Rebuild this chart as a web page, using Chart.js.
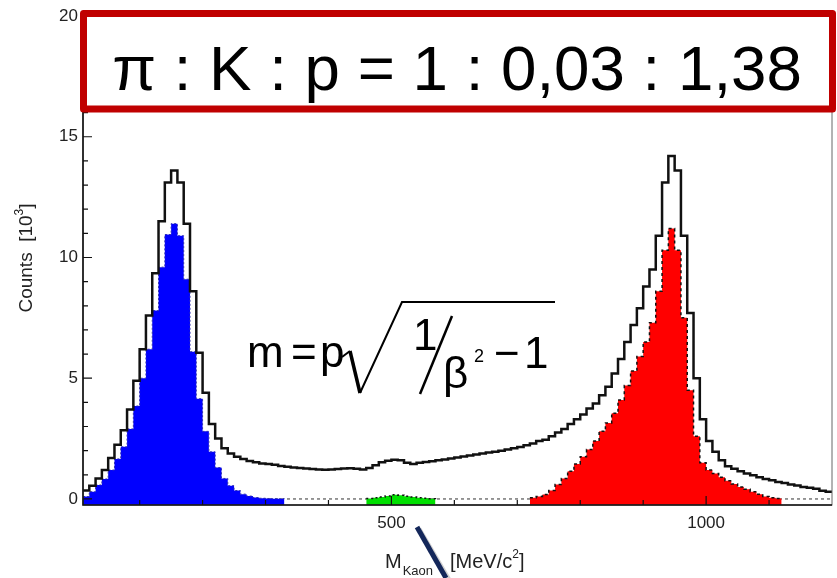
<!DOCTYPE html>
<html>
<head>
<meta charset="utf-8">
<script src="https://cdn.jsdelivr.net/npm/chart.js@4.4.1/dist/chart.umd.min.js"></script>
<style>
  body { margin: 0; background: #fff; }
  #wrap { width: 837px; height: 578px; position: relative; }
</style>
</head>
<body>
<div id="wrap"><canvas id="myChart"></canvas></div>
<script>
'use strict';
// binning of the mass histogram, MeV/c^2
const binStart = 10;
const binWidth = 10;
const xMin = 10;
const xMax = 1200;
const xTickLabels = [500, 1000];
const yTickLabels = [0, 5, 10, 15, 20];

// counts per bin, in units of 10^3
const totalCounts = [
  0.35, 0.55, 0.85, 1.2, 1.7, 2.25, 2.85, 3.7, 4.9, 6.2,
  7.6, 9.35, 11.5, 13.1, 13.6, 13.1, 11.4, 8.6, 6.05, 4.4,
  3.1, 2.5, 2.1, 1.88, 1.75, 1.65, 1.57, 1.52, 1.47, 1.45,
  1.42, 1.36, 1.33, 1.3, 1.28, 1.26, 1.24, 1.22, 1.21, 1.22,
  1.24, 1.26, 1.27, 1.25, 1.22, 1.28, 1.4, 1.52, 1.58, 1.62,
  1.6, 1.5, 1.45, 1.5, 1.53, 1.56, 1.6, 1.63, 1.68, 1.72,
  1.76, 1.8, 1.84, 1.88, 1.92, 1.96, 2.0, 2.05, 2.1, 2.15,
  2.22, 2.3, 2.4, 2.45, 2.6, 2.75, 2.9, 3.1, 3.3, 3.5,
  3.75, 3.95, 4.3, 4.65, 5.2, 5.8, 6.5, 7.2, 7.9, 8.8,
  9.5, 10.9, 13.1, 14.2, 13.6, 10.9, 7.7, 5.0, 3.3, 2.4,
  1.95, 1.6, 1.35, 1.25, 1.15, 1.05, 0.98, 0.9, 0.83, 0.78,
  0.7, 0.66, 0.6, 0.56, 0.5, 0.46, 0.42, 0.34, 0.3
];
const pionCounts = [
  0.1, 0.3, 0.58, 0.83, 1.2, 1.66, 2.16, 2.9, 3.85, 5.0,
  6.2, 7.8, 9.6, 10.95, 11.4, 10.9, 9.1, 6.1, 4.15, 2.8,
  1.95, 1.3, 0.85, 0.55, 0.35, 0.2, 0.12, 0.06, 0.03, 0.02,
  0.01, 0.01, 0, 0, 0, 0, 0, 0, 0, 0,
  0, 0, 0, 0, 0, 0, 0, 0, 0, 0,
  0, 0, 0, 0, 0, 0, 0, 0, 0, 0,
  0, 0, 0, 0, 0, 0, 0, 0, 0, 0,
  0, 0, 0, 0, 0, 0, 0, 0, 0, 0,
  0, 0, 0, 0, 0, 0, 0, 0, 0, 0,
  0, 0, 0, 0, 0, 0, 0, 0, 0, 0,
  0, 0, 0, 0, 0, 0, 0, 0, 0, 0,
  0, 0, 0, 0, 0, 0, 0, 0, 0
];
const kaonCounts = [
  0, 0, 0, 0, 0, 0, 0, 0, 0, 0,
  0, 0, 0, 0, 0, 0, 0, 0, 0, 0,
  0, 0, 0, 0, 0, 0, 0, 0, 0, 0,
  0, 0, 0, 0, 0, 0, 0, 0, 0, 0,
  0, 0, 0, 0, 0, 0.02, 0.05, 0.08, 0.12, 0.17,
  0.15, 0.11, 0.08, 0.05, 0.03, 0.01, 0, 0, 0, 0,
  0, 0, 0, 0, 0, 0, 0, 0, 0, 0,
  0, 0, 0, 0, 0, 0, 0, 0, 0, 0,
  0, 0, 0, 0, 0, 0, 0, 0, 0, 0,
  0, 0, 0, 0, 0, 0, 0, 0, 0, 0,
  0, 0, 0, 0, 0, 0, 0, 0, 0, 0,
  0, 0, 0, 0, 0, 0, 0, 0, 0
];
const protonCounts = [
  0, 0, 0, 0, 0, 0, 0, 0, 0, 0,
  0, 0, 0, 0, 0, 0, 0, 0, 0, 0,
  0, 0, 0, 0, 0, 0, 0, 0, 0, 0,
  0, 0, 0, 0, 0, 0, 0, 0, 0, 0,
  0, 0, 0, 0, 0, 0, 0, 0, 0, 0,
  0, 0, 0, 0, 0, 0, 0, 0, 0, 0,
  0, 0, 0, 0, 0, 0, 0, 0, 0, 0,
  0, 0.05, 0.1, 0.18, 0.35, 0.6, 0.85, 1.15, 1.45, 1.75,
  2.05, 2.4, 2.8, 3.15, 3.55, 4.1, 4.7, 5.3, 5.9, 6.5,
  7.3, 8.6, 10.3, 11.2, 10.3, 7.5, 4.5, 2.6, 1.5, 1.2,
  1.05, 0.9, 0.75, 0.62, 0.5, 0.4, 0.3, 0.2, 0.1, 0.05,
  0.02, 0, 0, 0, 0, 0, 0, 0, 0
];

const ratioText = 'π : K : p = 1 : 0,03 : 1,38';
const fontFam = "'Liberation Sans', Arial, Helvetica, sans-serif";

// step points at the left edge of every bin, empty bins become gaps
function stepPoints(counts) {
  let pts = [];
  for (let i = 0; i < counts.length; i++) {
    let prev = i > 0 ? counts[i - 1] : 0;
    let keep = counts[i] > 0 || prev > 0;
    pts.push({ x: binStart + i * binWidth, y: keep ? counts[i] : null });
  }
  let last = counts[counts.length - 1];
  pts.push({ x: binStart + counts.length * binWidth, y: last > 0 ? last : null });
  return pts;
}

const decorations = {
  id: 'decorations',
  beforeDatasetsDraw(chart) {
    const ctx = chart.ctx;
    const a = chart.chartArea;
    const y0 = chart.scales.y.getPixelForValue(0);
    ctx.save();
    ctx.strokeStyle = '#333';
    ctx.lineWidth = 1;
    ctx.setLineDash([3, 3]);
    ctx.beginPath();
    ctx.moveTo(a.left, y0);
    ctx.lineTo(a.right, y0);
    ctx.stroke();
    ctx.restore();
  },
  afterDraw(chart) {
    const ctx = chart.ctx;
    const a = chart.chartArea;
    const xs = chart.scales.x;
    const ys = chart.scales.y;
    ctx.save();

    // frame
    ctx.strokeStyle = '#666';
    ctx.lineWidth = 1;
    ctx.strokeRect(a.left, a.top, a.right - a.left, a.bottom - a.top);
    ctx.strokeStyle = '#111';
    ctx.lineWidth = 1.6;
    ctx.beginPath();
    ctx.moveTo(a.left, a.top);
    ctx.lineTo(a.left, a.bottom);
    ctx.lineTo(a.right, a.bottom);
    ctx.stroke();

    // ticks inside the frame
    ctx.lineWidth = 1.2;
    ctx.beginPath();
    for (let v = 100; v < xMax; v += 100) {
      let px = xs.getPixelForValue(v);
      let len = xTickLabels.includes(v) ? 9 : 5;
      ctx.moveTo(px, a.bottom);
      ctx.lineTo(px, a.bottom - len);
    }
    for (let v = 0; v <= 20; v++) {
      let py = ys.getPixelForValue(v);
      let len = yTickLabels.includes(v) ? 9 : 5;
      ctx.moveTo(a.left, py);
      ctx.lineTo(a.left + len, py);
    }
    ctx.stroke();

    // ratio box
    ctx.fillStyle = '#fff';
    ctx.fillRect(83, 13, 750, 96);
    ctx.strokeStyle = '#c00000';
    ctx.lineWidth = 7;
    ctx.lineJoin = 'round';
    ctx.strokeRect(83.5, 13.5, 749, 95.5);
    let size = 64;
    ctx.font = size + 'px ' + fontFam;
    size = size * 690 / ctx.measureText(ratioText).width;
    ctx.font = size + 'px ' + fontFam;
    ctx.fillStyle = '#000';
    ctx.textAlign = 'center';
    ctx.textBaseline = 'alphabetic';
    ctx.fillText(ratioText, 457, 90);

    // mass formula
    ctx.strokeStyle = '#000';
    ctx.lineJoin = 'miter';
    ctx.textAlign = 'left';
    ctx.font = '44px ' + fontFam;
    ctx.fillText('m', 247, 367);
    ctx.fillText('=', 291, 367);
    ctx.fillText('p', 320, 367);
    ctx.lineWidth = 2;
    ctx.lineCap = 'butt';
    ctx.beginPath();
    ctx.moveTo(342, 357);
    ctx.lineTo(350, 351);
    ctx.stroke();
    ctx.lineWidth = 3.5;
    ctx.beginPath();
    ctx.moveTo(350, 351);
    ctx.lineTo(360, 393);
    ctx.stroke();
    ctx.lineWidth = 2;
    ctx.beginPath();
    ctx.moveTo(360, 393);
    ctx.lineTo(402, 302);
    ctx.lineTo(555, 302);
    ctx.stroke();
    ctx.fillText('1', 413, 350);
    ctx.lineWidth = 2.5;
    ctx.beginPath();
    ctx.moveTo(452, 316);
    ctx.lineTo(420, 394);
    ctx.stroke();
    ctx.fillText('β', 443, 388);
    ctx.font = '18px ' + fontFam;
    ctx.fillText('2', 474, 362);
    ctx.font = '44px ' + fontFam;
    ctx.fillText('−', 494, 368);
    ctx.fillText('1', 524, 368);

    // axis titles
    ctx.fillStyle = '#222';
    ctx.font = '20px ' + fontFam;
    ctx.fillText('M', 385, 568);
    let wM = ctx.measureText('M').width;
    ctx.font = '13px ' + fontFam;
    ctx.fillText('Kaon', 385 + wM + 1, 575);
    ctx.font = '20px ' + fontFam;
    let unitA = '[MeV/c';
    ctx.fillText(unitA, 450, 568);
    let wA = ctx.measureText(unitA).width;
    ctx.font = '12px ' + fontFam;
    ctx.fillText('2', 450 + wA, 558);
    let w2 = ctx.measureText('2').width;
    ctx.font = '20px ' + fontFam;
    ctx.fillText(']', 450 + wA + w2, 568);

    ctx.save();
    ctx.translate(32, 258);
    ctx.rotate(-Math.PI / 2);
    ctx.font = '19px ' + fontFam;
    let tA = 'Counts  [10';
    let tw = ctx.measureText(tA).width;
    ctx.font = '12px ' + fontFam;
    let sw = ctx.measureText('3').width;
    ctx.font = '19px ' + fontFam;
    let total = tw + sw + ctx.measureText(']').width;
    let sx = -total / 2;
    ctx.fillText(tA, sx, 0);
    ctx.font = '12px ' + fontFam;
    ctx.fillText('3', sx + tw, -9);
    ctx.font = '19px ' + fontFam;
    ctx.fillText(']', sx + tw + sw, 0);
    ctx.restore();

    // pointer stroke over the axis title
    ctx.strokeStyle = 'rgba(0,0,0,0.18)';
    ctx.lineWidth = 5;
    ctx.beginPath();
    ctx.moveTo(419, 529);
    ctx.lineTo(449, 580);
    ctx.stroke();
    ctx.strokeStyle = '#14275a';
    ctx.lineWidth = 5;
    ctx.beginPath();
    ctx.moveTo(417, 527);
    ctx.lineTo(446, 578);
    ctx.stroke();

    ctx.restore();
  }
};

const ctx = document.getElementById('myChart').getContext('2d');
const chart = new Chart(ctx, {
  type: 'line',
  data: {
    datasets: [
      {
        label: 'all',
        data: stepPoints(totalCounts),
        stepped: true,
        borderColor: '#111',
        borderWidth: 2.5,
        fill: false
      },
      {
        label: 'kaon',
        data: stepPoints(kaonCounts),
        stepped: true,
        borderColor: '#111',
        borderWidth: 1.5,
        borderDash: [2, 3],
        backgroundColor: '#00e000',
        fill: 'start'
      },
      {
        label: 'pion',
        data: stepPoints(pionCounts),
        stepped: true,
        borderColor: '#3030b0',
        borderWidth: 1,
        borderDash: [2, 2],
        backgroundColor: '#0000ff',
        fill: 'start'
      },
      {
        label: 'proton',
        data: stepPoints(protonCounts),
        stepped: true,
        borderColor: '#111',
        borderWidth: 1.5,
        borderDash: [3, 3],
        backgroundColor: '#ff0000',
        fill: 'start'
      }
    ]
  },
  options: {
    responsive: true,
    maintainAspectRatio: false,
    animation: false,
    layout: { padding: { left: 0, right: 5, top: 16, bottom: 0 } },
    plugins: { legend: { display: false }, tooltip: { enabled: false } },
    elements: { point: { radius: 0 }, line: { tension: 0 } },
    scales: {
      x: {
        type: 'linear',
        min: xMin,
        max: xMax,
        grid: { display: false, drawTicks: false },
        border: { display: false },
        afterBuildTicks: (s) => { s.ticks = xTickLabels.map(v => ({ value: v })); },
        afterFit: (s) => { s.height = 73; },
        ticks: {
          padding: 8, color: '#222', maxRotation: 0, autoSkip: false,
          font: { family: fontFam, size: 17 },
          callback: (v) => String(v)
        }
      },
      y: {
        min: -0.25,
        max: 20,
        grid: { display: false, drawTicks: false },
        border: { display: false },
        afterBuildTicks: (s) => { s.ticks = yTickLabels.map(v => ({ value: v })); },
        afterFit: (s) => { s.width = 83; },
        ticks: {
          padding: 5, color: '#222',
          font: { family: fontFam, size: 17 },
          callback: (v) => String(v)
        }
      }
    }
  },
  plugins: [decorations]
});
</script>
</body>
</html>
